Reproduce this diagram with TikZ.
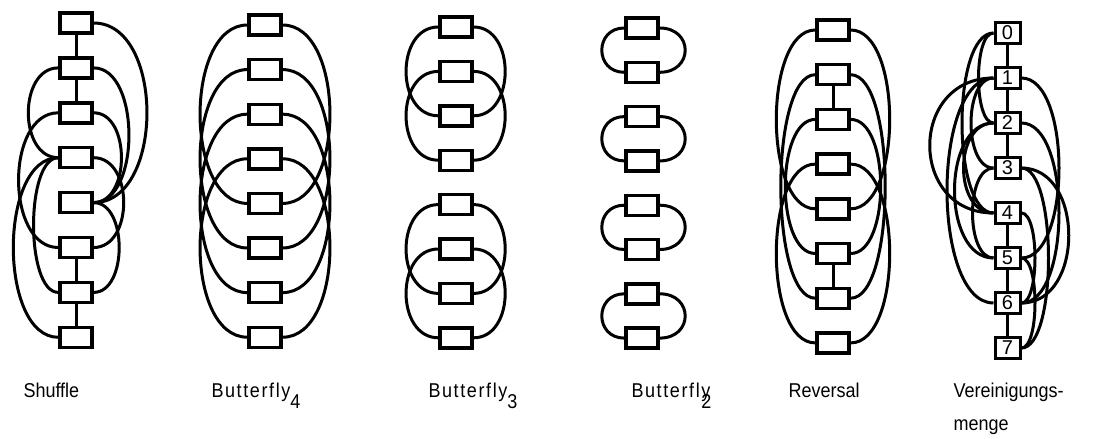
\documentclass[tikz,border=0pt]{standalone}
\usepackage{fontspec}
\setmainfont{Liberation Sans}
\newcommand\nar[1]{\scalebox{0.9}[1]{#1}}
\newcommand\bfly{\scalebox{0.9}[1]{\addfontfeature{LetterSpace=9}Butterfly}}
\begin{document}
\begin{tikzpicture}[x=1pt,y=-1pt,line width=3pt,
  bx/.style={draw,line width=3.4pt,minimum width=32pt,minimum height=20pt,inner sep=0pt},
  ubx/.style={draw,line width=3pt,minimum width=25pt,minimum height=21pt,inner sep=0pt,font=\fontsize{20}{20}\selectfont},
  lbl/.style={font=\fontsize{20}{20}\selectfont,anchor=base west,inner sep=0pt},
  arcl/.style={line width=3pt}]
\useasboundingbox (0,0) rectangle (1112,439);
\newcommand\la[3]{\draw[arcl] (#1.west) .. controls +(-#3,0) and +(-#3,0) .. (#2.west);}
\newcommand\ra[3]{\draw[arcl] (#1.east) .. controls +(#3,0) and +(#3,0) .. (#2.east);}
% Shuffle
\foreach \i in {0,...,7} \node[bx] (s\i) at (76,{23+44.9*\i}) {};
\draw (s0)--(s1) (s1)--(s2) (s5)--(s6) (s6)--(s7);
\ra{s0}{s4}{71} \ra{s1}{s4}{47} \ra{s2}{s4}{37} \ra{s3}{s5}{40} \ra{s4}{s6}{34}
\la{s1}{s3}{40} \la{s2}{s5}{53} \la{s3}{s6}{33} \la{s3}{s7}{60}
% Butterfly4
\foreach \i in {0,...,7} \node[bx] (a\i) at (265,{25+44.6*\i}) {};
\foreach \i/\j in {0/4,1/5,2/6,3/7} {\la{a\i}{a\j}{63} \ra{a\i}{a\j}{63}}
% Butterfly3
\foreach \i in {0,...,7} \node[bx] (b\i) at (456,{27+44.4*\i}) {};
\foreach \i/\j in {0/2,1/3,4/6,5/7} {\la{b\i}{b\j}{43} \ra{b\i}{b\j}{42}}
% Butterfly2
\foreach \i in {0,...,7} \node[bx] (c\i) at (642,{28+44.3*\i}) {};
\foreach \i/\j in {0/1,2/3,4/5,6/7} {\la{c\i}{c\j}{30} \ra{c\i}{c\j}{34}}
% Reversal
\foreach \i in {0,...,7} \node[bx] (r\i) at (833,{30+44.7*\i}) {};
\draw (r1)--(r2) (r5)--(r6);
\foreach \i/\j/\d in {0/4/52,3/7/52,1/6/46,2/5/40} {\la{r\i}{r\j}{\d} \ra{r\i}{r\j}{\d}}
% Vereinigungsmenge
\foreach \i in {0,...,7} \node[ubx] (u\i) at (1007.5,{33+45*\i}) {\i};
\draw (u0)--(u1) (u1)--(u2) (u2)--(u3) (u4)--(u5) (u5)--(u6) (u6)--(u7);
\la{u0}{u2}{20} \la{u0}{u4}{42} \la{u1}{u3}{30} \la{u1}{u4}{85} \la{u1}{u6}{62}
\la{u2}{u4}{40} \la{u2}{u5}{52} \la{u3}{u5}{28}
\ra{u1}{u5}{50} \ra{u2}{u6}{50} \ra{u3}{u6}{63} \ra{u3}{u7}{36} \ra{u4}{u6}{18} \ra{u5}{u7}{18}
% labels
\node[lbl] (t1) at (22,397) {\nar{Shuffle}};
\node[lbl] (t2) at (210,397) {\bfly\raisebox{-11pt}{\nar{4}}};
\node[lbl] (t3) at (427,397) {\bfly\raisebox{-11pt}{\nar{3}}};
\node[lbl] (t4) at (630,397) {\bfly\kern-9pt\raisebox{-11pt}{\nar{2}}};
\node[lbl] (t5) at (787,397) {\nar{Reversal}};
\node[lbl] (t6) at (952,397) {\nar{Vereinigungs-}};
\node[lbl] (t7) at (952,430) {\nar{menge}};
\end{tikzpicture}
\end{document}
